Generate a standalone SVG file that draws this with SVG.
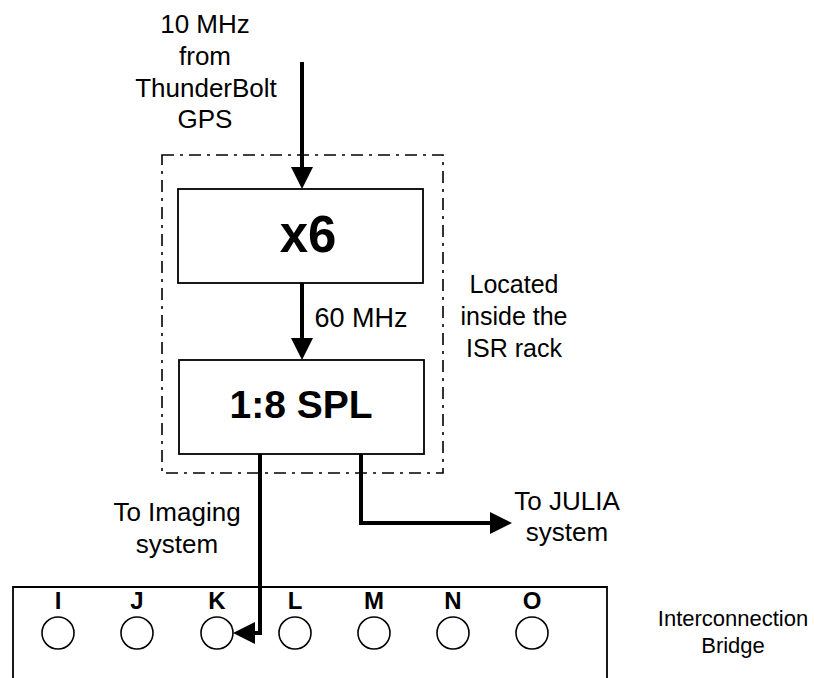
<svg xmlns="http://www.w3.org/2000/svg" width="814" height="678" viewBox="0 0 814 678">
<defs>
<style>
text{font-family:"Liberation Sans",Arial,sans-serif;fill:#000;text-anchor:middle}
.lbl{font-size:26px}
.loc{font-size:25px}
.f60{font-size:27px}
.small{font-size:22px}
.big{font-size:51px;font-weight:bold}
.mid{font-size:39px;font-weight:bold}
.let{font-size:24px;font-weight:bold}
.box{fill:#fff;stroke:#000;stroke-width:1.8}
.conn{fill:none;stroke:#000;stroke-width:4}
.port{fill:#fff;stroke:#000;stroke-width:1.6}
</style>
<marker id="ah" viewBox="0 0 22 22" refX="1" refY="11" markerWidth="22" markerHeight="22" markerUnits="userSpaceOnUse" orient="auto">
<path d="M0,0 L22,11 L0,22 z" fill="#000"/>
</marker>
</defs>
<rect width="814" height="678" fill="#fff"/>

<g id="rack">
<rect x="162" y="155" width="281" height="318" fill="none" stroke="#000" stroke-width="1.6" stroke-dasharray="12,6,3,6"/>
<text class="loc" x="514" y="293">Located</text>
<text class="loc" x="514" y="325">inside the</text>
<text class="loc" x="514" y="357">ISR rack</text>
</g>

<g id="x6">
<rect class="box" x="178" y="189" width="245" height="94"/>
<text class="big" x="308" y="252">x6</text>
</g>

<g id="spl">
<rect class="box" x="179" y="360" width="245" height="94"/>
<text class="mid" x="301" y="418">1:8 SPL</text>
</g>

<g id="bridge">
<path d="M13,680 V587 H607 V680" fill="none" stroke="#000" stroke-width="1.8"/>
<text class="let" x="58" y="609">I</text>
<text class="let" x="137" y="609">J</text>
<text class="let" x="217" y="609">K</text>
<text class="let" x="295" y="609">L</text>
<text class="let" x="374" y="609">M</text>
<text class="let" x="453" y="609">N</text>
<text class="let" x="532" y="609">O</text>
<circle class="port" cx="58" cy="633" r="16"/>
<circle class="port" cx="137" cy="633" r="16"/>
<circle class="port" cx="217" cy="633" r="16"/>
<circle class="port" cx="295" cy="633" r="16"/>
<circle class="port" cx="374" cy="633" r="16"/>
<circle class="port" cx="453" cy="633" r="16"/>
<circle class="port" cx="532" cy="633" r="16"/>
<text class="small" x="733" y="626">Interconnection</text>
<text class="small" x="733" y="653">Bridge</text>
</g>

<g id="labels">
<text class="lbl" x="205" y="33">10 MHz</text>
<text class="lbl" x="205" y="65">from</text>
<text class="lbl" x="206" y="97">ThunderBolt</text>
<text class="lbl" x="205" y="128">GPS</text>
<text class="f60" x="361" y="327">60 MHz</text>
<text class="lbl" x="177" y="521">To Imaging</text>
<text class="lbl" x="177" y="553">system</text>
<text class="lbl" x="567" y="510">To JULIA</text>
<text class="lbl" x="567" y="541">system</text>
</g>

<g id="connectors">
<path class="conn" d="M302,62 V168" marker-end="url(#ah)"/>
<path class="conn" d="M302,283 V339" marker-end="url(#ah)"/>
<path class="conn" d="M260,454 V633 H254" marker-end="url(#ah)"/>
<path class="conn" d="M361,454 V523 H491" marker-end="url(#ah)"/>
</g>
</svg>
